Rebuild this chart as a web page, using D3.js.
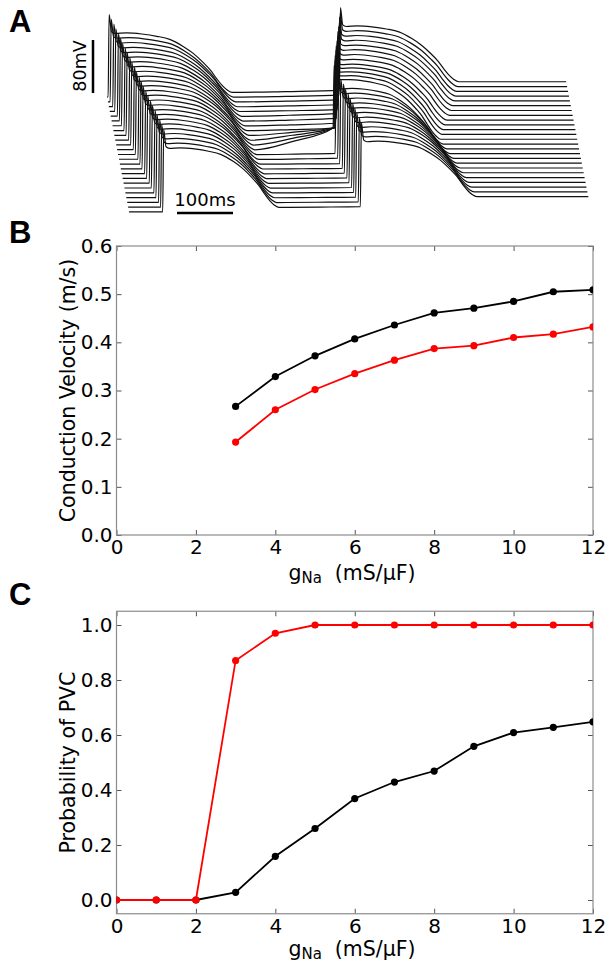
<!DOCTYPE html>
<html>
<head>
<meta charset="utf-8">
<script src="https://cdn.jsdelivr.net/npm/d3@7/dist/d3.min.js"></script>
<style>
  body { margin: 0; background: #fff; }
  svg { display: block; }
</style>
</head>
<body>
<svg id="fig" width="605" height="963"></svg>
<script>
// ---------------- Panel B: conduction velocity vs gNa ----------------
const gNaCV   = [3, 4, 5, 6, 7, 8, 9, 10, 11, 12];
const cvBlack = [0.267, 0.329, 0.372, 0.407, 0.436, 0.461, 0.471, 0.485, 0.505, 0.509];
const cvRed   = [0.193, 0.260, 0.302, 0.335, 0.363, 0.387, 0.393, 0.410, 0.417, 0.432];
const cvTicks = [0.0, 0.1, 0.2, 0.3, 0.4, 0.5, 0.6];

// ---------------- Panel C: probability of PVC vs gNa ----------------
const gNaPVC   = [0, 1, 2, 3, 4, 5, 6, 7, 8, 9, 10, 11, 12];
const pvcBlack = [0, 0, 0, 0.028, 0.159, 0.260, 0.369, 0.429, 0.469, 0.559, 0.609, 0.628, 0.648];
const pvcRed   = [0, 0, 0, 0.871, 0.970, 1, 1, 1, 1, 1, 1, 1, 1];
const pvcTicks = [0.0, 0.2, 0.4, 0.6, 0.8, 1.0];
const gNaTicks = [0, 2, 4, 6, 8, 10, 12];

// ---------------- Panel A: membrane potential traces along the cable ----------------
// times in ms from the start of each trace, voltages in mV
const upstroke1 = [2, 4, 7, 9, 12, 14, 16, 19, 21, 24, 26, 29, 31, 34, 36, 38, 41, 43, 46, 48, 51, 53, 56, 58, 60];
const apd1      = [221, 220, 220, 219, 218, 218, 217, 216, 216, 215, 214, 214, 213, 212, 212, 211, 211, 210, 209, 209, 208, 208, 207, 207, 207];
const upstroke2 = [415, 413, 410, 408, 405, 402, 400, 397, 394, 392, 389, 387, 384, 386, 389, 391, 394, 396, 399, 401, 404, 406, 408, 411, 413];
const apd2      = [213, 212, 211, 210, 209, 207, 205, 203, 200, 197, 195, 193, 192, 193, 195, 197, 199, 201, 202, 204, 205, 206, 207, 207, 208];
const preBeat2  = [-75, -75, -75, -75, -75, -74, -74, -74, -74, -66, -59, -52, -45, -76, -76, -77, -77, -77, -77, -77, -77, -77, -77, -77, -77];
const restStart = -85, restBetween = -78, restEnd = -62;
const peak1 = 39.5, peak2 = 50;
const traceEnd = 820;
// action potential waveform: time from upstroke (ms) and fraction of the way from baseline to peak
const apTime = [0, 1.8, 6, 12, 33, 60, 87, 110, 134, 152, 170, 183, 194, 204, 212, 221];
const apFrac = [0, 1, 0.79, 0.77, 0.775, 0.76, 0.73, 0.69, 0.60, 0.51, 0.39, 0.29, 0.18, 0.09, 0.035, 0];
const apRefDuration = 221;
// diastolic ramp between the two beats
const rampTime = [0, 0.5, 1];
const rampFrac = [0, 0.4, 1];

const svg = d3.select('#fig');
const FONT = "'DejaVu Sans', sans-serif";

// ---------- Panel A ----------
const tA = d3.scaleLinear().domain([0, 100]).range([0, 56]);      // ms -> px
const vA = d3.scaleLinear().domain([-85, -5]).range([0, -53]);    // mV -> px (relative to trace origin)
const stepX = 0.92, stepY = 4.79, originX = 107, originY = 97;

function apPoints(start, dur, pre, post, peak) {
  return apTime.map((t, k) => {
    const tt = t <= 12 ? t : 12 + (t - 12) * (dur - 12) / (apRefDuration - 12);
    const b = pre + (post - pre) * tt / dur;
    return [start + tt, b + apFrac[k] * (peak - b)];
  });
}

function tracePoints(i) {
  const pts = [[0, restStart]];
  pts.push(...apPoints(upstroke1[i], apd1[i], restStart, restBetween, peak1));
  const end1 = upstroke1[i] + apd1[i];
  const gap = upstroke2[i] - end1;
  for (let k = 1; k < rampTime.length - 1; k++) {
    pts.push([end1 + rampTime[k] * gap, restBetween + rampFrac[k] * (preBeat2[i] - restBetween)]);
  }
  pts.push(...apPoints(upstroke2[i], apd2[i], preBeat2[i], restEnd, peak2));
  pts.push([traceEnd, restEnd]);
  return pts;
}

const traceLine = d3.line()
  .x(d => tA(d[0]))
  .y(d => vA(d[1]))
  .curve(d3.curveMonotoneX);

const gA = svg.append('g');
d3.range(upstroke1.length).forEach(i => {
  gA.append('path')
    .attr('transform', `translate(${originX + stepX * i},${originY + stepY * i})`)
    .attr('d', traceLine(tracePoints(i)))
    .attr('fill', 'none')
    .attr('stroke', '#111')
    .attr('stroke-width', 1.2);
});

// scale bars
const barV = svg.append('g').attr('transform', `translate(93,93)`);
barV.append('line').attr('x1', 0).attr('x2', 0).attr('y1', vA(-85)).attr('y2', vA(-5))
  .attr('stroke', '#000').attr('stroke-width', 2.5);
svg.append('text').attr('transform', 'translate(86,66) rotate(-90)')
  .attr('text-anchor', 'middle').attr('font-family', FONT).attr('font-size', 17.5)
  .text('80mV');
const barH = svg.append('g').attr('transform', `translate(177,213)`);
barH.append('line').attr('x1', tA(0)).attr('x2', tA(100)).attr('y1', 0).attr('y2', 0)
  .attr('stroke', '#000').attr('stroke-width', 2.5);
svg.append('text').attr('x', 205).attr('y', 206)
  .attr('text-anchor', 'middle').attr('font-family', FONT).attr('font-size', 18)
  .text('100ms');

// ---------- Panels B and C ----------
const x = d3.scaleLinear().domain([0, 12]).range([116.5, 593]);
const defs = svg.append('defs');

function xLabel(g, yBase) {
  const t = g.append('text').attr('x', 352).attr('y', yBase)
    .attr('text-anchor', 'middle').attr('font-family', FONT).attr('font-size', 20.5);
  t.append('tspan').text('g');
  t.append('tspan').attr('font-size', 15).attr('dy', 2.5).text('Na');
  t.append('tspan').attr('dy', -2.5).text('\u00a0\u00a0(mS/\u03bcF)');
}

function panel(opts) {
  const { top, bottom, yDomain, yTicks, series, yLabel, clipId, xLabelY } = opts;
  const y = d3.scaleLinear().domain(yDomain).range([bottom, top]);
  const [x0, x1] = x.range();
  const g = svg.append('g');

  defs.append('clipPath').attr('id', clipId)
    .append('rect').attr('x', x0).attr('y', top).attr('width', x1 - x0).attr('height', bottom - top);

  const styleAxis = (ax) => {
    ax.select('.domain').remove();
    ax.selectAll('.tick line').attr('stroke', '#555').attr('stroke-width', 1);
    ax.selectAll('.tick text').attr('fill', '#000').attr('font-family', FONT).attr('font-size', 20);
  };

  g.append('g').attr('transform', `translate(0,${bottom})`)
    .call(d3.axisBottom(x).tickValues(gNaTicks).tickSize(-5).tickPadding(5).tickFormat(d3.format('d')))
    .call(styleAxis);
  g.append('g').attr('transform', `translate(0,${top})`)
    .call(d3.axisTop(x).tickValues(gNaTicks).tickSize(-5).tickFormat(() => ''))
    .call(styleAxis);
  g.append('g').attr('transform', `translate(${x0},0)`)
    .call(d3.axisLeft(y).tickValues(yTicks).tickSize(-5).tickPadding(4).tickFormat(d3.format('.1f')))
    .call(styleAxis);
  g.append('g').attr('transform', `translate(${x1},0)`)
    .call(d3.axisRight(y).tickValues(yTicks).tickSize(-5).tickFormat(() => ''))
    .call(styleAxis);

  g.append('rect').attr('x', x0).attr('y', top).attr('width', x1 - x0).attr('height', bottom - top)
    .attr('fill', 'none').attr('stroke', '#8c8c8c').attr('stroke-width', 1.2);

  const plot = g.append('g').attr('clip-path', `url(#${clipId})`);
  const line = d3.line().x(d => x(d[0])).y(d => y(d[1]));
  series.forEach(s => {
    const pts = s.xs.map((v, k) => [v, s.ys[k]]);
    plot.append('path').attr('d', line(pts)).attr('fill', 'none')
      .attr('stroke', s.color).attr('stroke-width', 1.8);
    plot.selectAll(null).data(pts).enter().append('circle')
      .attr('cx', d => x(d[0])).attr('cy', d => y(d[1])).attr('r', 3.6)
      .attr('fill', s.color);
  });

  g.append('text').attr('transform', `translate(75,${(top + bottom) / 2}) rotate(-90)`)
    .attr('text-anchor', 'middle').attr('font-family', FONT).attr('font-size', 20.5)
    .text(yLabel);
  xLabel(g, xLabelY);
}

panel({
  top: 246, bottom: 535, yDomain: [0, 0.6], yTicks: cvTicks,
  series: [
    { xs: gNaCV, ys: cvBlack, color: '#000' },
    { xs: gNaCV, ys: cvRed, color: '#ff0000' }
  ],
  yLabel: 'Conduction Velocity (m/s)', clipId: 'clipB', xLabelY: 580
});

panel({
  top: 611.25, bottom: 913.75, yDomain: [-0.05, 1.05], yTicks: pvcTicks,
  series: [
    { xs: gNaPVC, ys: pvcBlack, color: '#000' },
    { xs: gNaPVC, ys: pvcRed, color: '#ff0000' }
  ],
  yLabel: 'Probability of PVC', clipId: 'clipC', xLabelY: 956
});

// panel letters
[['A', 32], ['B', 243], ['C', 605]].forEach(([s, yb]) => {
  svg.append('text').attr('x', 9).attr('y', yb)
    .attr('font-family', "'Liberation Sans', Arial, sans-serif").attr('font-weight', 'bold')
    .attr('font-size', 31).text(s);
});
</script>
</body>
</html>
